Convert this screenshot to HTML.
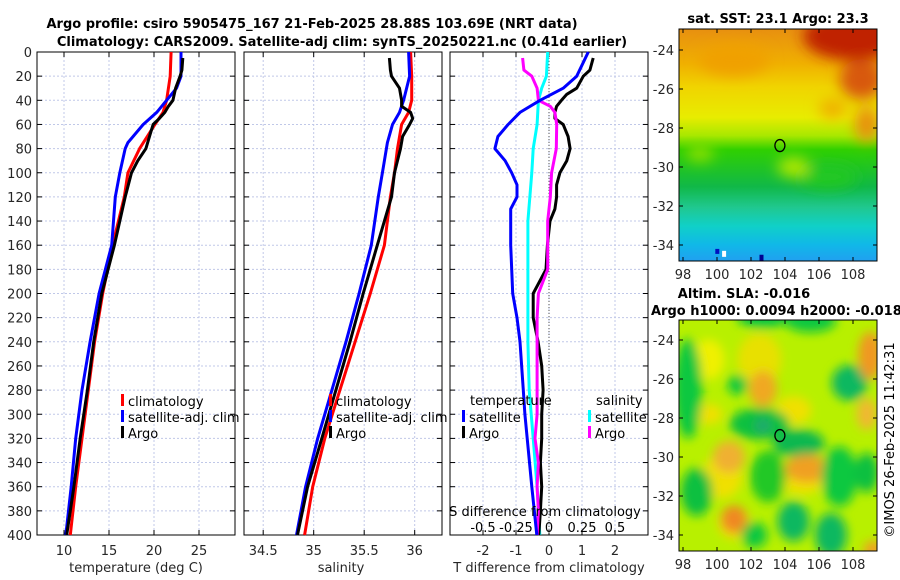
<!DOCTYPE html>
<html><head><meta charset="utf-8"><style>
body{margin:0;background:#fff;}
svg{display:block;font-family:"DejaVu Sans","Liberation Sans",sans-serif;}
</style></head><body>
<svg id="fig" width="900" height="580" viewBox="0 0 900 580" xmlns="http://www.w3.org/2000/svg">
<defs>
<filter id="blur4" x="-50%" y="-50%" width="200%" height="200%"><feGaussianBlur stdDeviation="7"/></filter>
<filter id="blur2" x="-50%" y="-50%" width="200%" height="200%"><feGaussianBlur stdDeviation="5"/></filter>
<clipPath id="m1clip"><rect x="679" y="29" width="198" height="232"/></clipPath>
<clipPath id="m2clip"><rect x="679" y="320" width="198" height="231"/></clipPath>
<linearGradient id="sstgrad" x1="0" y1="0" x2="0" y2="1">
<stop offset="0" stop-color="#e89010"/><stop offset="0.15" stop-color="#f0b000"/><stop offset="0.25" stop-color="#f0d400"/>
<stop offset="0.38" stop-color="#e8ec00"/><stop offset="0.46" stop-color="#a8e800"/><stop offset="0.52" stop-color="#30d000"/>
<stop offset="0.68" stop-color="#10b848"/><stop offset="0.77" stop-color="#20c890"/><stop offset="0.85" stop-color="#10d0c8"/>
<stop offset="0.93" stop-color="#10b8e8"/><stop offset="1" stop-color="#20a0f0"/>
</linearGradient>
</defs>
<text x="312" y="28" text-anchor="middle" font-size="13" font-weight="bold">Argo profile: csiro 5905475_167 21-Feb-2025 28.88S 103.69E (NRT data)</text>
<text x="342" y="46" text-anchor="middle" font-size="13" font-weight="bold">Climatology: CARS2009. Satellite-adj clim: synTS_20250221.nc (0.41d earlier)</text>
<g id="p1"></g>
<g id="p2"></g>
<g id="p3"></g>
<g id="m1"></g>
<g id="m2"></g>
<text transform="translate(894,440) rotate(-90)" text-anchor="middle" font-size="13">©IMOS 26-Feb-2025 11:42:31</text>
</svg>
<script>
// ---- data ----
const depthTicks=[0,20,40,60,80,100,120,140,160,180,200,220,240,260,280,300,320,340,360,380,400];
const tTicks=[10,15,20,25];
const sTicks=[34.5,35,35.5,36];
const dTTicks=[-2,-1,0,1,2];
const dSTicks=[-0.5,-0.25,0,0.25,0.5];
const dSLabels=["-0.5","-0.25","0","0.25","0.5"];

const climDepth=[0,20,40,50,60,80,100,120,160,200,240,280,320,360,400];
const climTemp=[21.9,21.8,21.4,21.0,20.1,18.4,17.1,16.7,15.4,14.3,13.4,12.7,12.0,11.3,10.7];
const climSal=[35.96,35.97,35.97,35.94,35.87,35.83,35.80,35.76,35.70,35.56,35.41,35.26,35.11,34.99,34.91];

const satDepth=[0,20,30,40,50,60,75,80,100,120,160,200,240,280,320,360,400];
const satTemp=[23.0,23.0,22.5,21.4,20.3,18.8,17.1,16.8,16.2,15.7,15.3,13.9,12.9,12.0,11.3,10.8,10.2];
const satSal=[35.94,35.95,35.92,35.89,35.85,35.78,35.73,35.72,35.68,35.64,35.57,35.45,35.32,35.18,35.04,34.92,34.83];

const argoDepth=[5,15,20,30,40,45,50,55,60,70,80,90,100,120,160,200,240,280,320,360,400];
const argoTemp=[23.2,23.1,22.9,22.4,22.1,21.6,21.2,20.6,19.9,19.5,19.1,18.2,17.5,16.8,15.6,14.2,13.3,12.6,11.8,11.1,10.3];
const argoSal=[35.75,35.76,35.77,35.85,35.87,35.87,35.96,35.98,35.95,35.88,35.86,35.83,35.80,35.77,35.63,35.49,35.36,35.22,35.08,34.94,34.84];

const dSatDepth=[0,20,30,40,50,60,70,80,90,100,110,120,130,160,200,220,240,280,300,320,360,400];
const dSatT=[1.19,0.84,0.43,-0.27,-0.88,-1.24,-1.55,-1.64,-1.33,-1.13,-0.97,-0.97,-1.16,-1.16,-1.10,-0.97,-0.88,-0.78,-0.73,-0.66,-0.52,-0.37];
const dArgoDepth=[5,15,20,30,35,40,45,50,55,60,70,80,90,100,110,120,130,140,160,180,200,220,240,260,280,300,320,340,360,380,400];
const dArgoT=[1.34,1.24,1.04,0.84,0.54,0.38,0.23,0.18,0.18,0.43,0.58,0.64,0.54,0.33,0.23,0.23,0.18,0.03,-0.05,-0.09,-0.48,-0.48,-0.33,-0.22,-0.18,-0.22,-0.22,-0.26,-0.22,-0.26,-0.31];
const dSatSDepth=[0,20,30,40,60,80,100,140,200,220,240,280,320,360,400];
const dSatS=[-0.01,-0.02,-0.055,-0.08,-0.09,-0.12,-0.13,-0.16,-0.16,-0.16,-0.16,-0.15,-0.12,-0.09,-0.07];
const dArgoSDepth=[5,15,20,30,40,45,50,60,80,100,120,140,160,180,200,220,240,280,300,320,340,360,380,400];
const dArgoS=[-0.2,-0.19,-0.13,-0.09,-0.08,0.01,0.045,0.058,0.055,0.02,0.01,-0.01,-0.01,-0.01,-0.08,-0.09,-0.09,-0.09,-0.09,-0.106,-0.08,-0.09,-0.08,-0.09];

const NS='http://www.w3.org/2000/svg';
function mk(parent,tag,attrs,txt){const e=document.createElementNS(NS,tag);for(const k in attrs)e.setAttribute(k,attrs[k]);if(txt!==undefined)e.textContent=txt;parent.appendChild(e);return e;}

const Y0=52,Y1=535;
const yD=d=>Y0+(d/400)*(Y1-Y0);
function panel(g,x0,x1,xs,ticks,labels,showY){
  mk(g,'rect',{x:x0,y:Y0,width:x1-x0,height:Y1-Y0,fill:'#fff'});
  depthTicks.forEach(d=>{
    if(d>0&&d<400){const l=mk(g,'line',{x1:x0,x2:x1,y1:yD(d),y2:yD(d),stroke:'#c0c8e8','stroke-width':1,'stroke-dasharray':'2,2'});}
    mk(g,'line',{x1:x0,x2:x0+5,y1:yD(d),y2:yD(d),stroke:'#000'});
    mk(g,'line',{x1:x1-5,x2:x1,y1:yD(d),y2:yD(d),stroke:'#000'});
    if(showY){const t=mk(g,'text',{x:x0-5,y:yD(d)+5,'text-anchor':'end','font-size':13,fill:'#262626'},String(d));}
  });
  ticks.forEach((v,i)=>{
    const x=xs(v);
    const l=mk(g,'line',{x1:x,x2:x,y1:Y0,y2:Y1,stroke:'#c0c8e8','stroke-width':1,'stroke-dasharray':'2,2'});
    
    mk(g,'line',{x1:x,x2:x,y1:Y1,y2:Y1-5,stroke:'#000'});
    mk(g,'line',{x1:x,x2:x,y1:Y0,y2:Y0+5,stroke:'#000'});
    const t=mk(g,'text',{x:x,y:555,'text-anchor':'middle','font-size':13,fill:'#262626'},labels[i]);
    
  });
  mk(g,'rect',{x:x0,y:Y0,width:x1-x0,height:Y1-Y0,fill:'none',stroke:'#000','stroke-width':1});
}
function line(g,xs,vals,depths,color,name,w){
  const pts=vals.map((v,i)=>xs(v).toFixed(1)+','+yD(depths[i]).toFixed(1)).join(' ');
  const p=mk(g,'polyline',{points:pts,fill:'none',stroke:color,'stroke-width':w||3,'stroke-linejoin':'round'});
  
  
}
function legendEntry(g,x,y,color,label){
  mk(g,'rect',{x:x,y:y-8,width:3,height:12,fill:color});
  const t=mk(g,'text',{x:x+7,y:y+4,'font-size':13,fill:'#000'},label);
  
  
}

// Panel 1
const p1=document.getElementById('p1');
const xT=v=>37+(v-7)*9;
panel(p1,37,235,xT,tTicks,tTicks.map(String),true);
line(p1,xT,climTemp,climDepth,'#ff0000','climatology-temp-line');
line(p1,xT,satTemp,satDepth,'#0000ff','satellite-temp-line');
line(p1,xT,argoTemp,argoDepth,'#000000','argo-temp-line');
legendEntry(p1,121,402,'#ff0000','climatology');
legendEntry(p1,121,418,'#0000ff','satellite-adj. clim');
legendEntry(p1,121,434,'#000000','Argo');
{const t=mk(p1,'text',{x:136,y:572,'text-anchor':'middle','font-size':13,fill:'#262626'},'temperature (deg C)');}

// Panel 2
const p2=document.getElementById('p2');
const xS=v=>244+(v-34.31)*101;
panel(p2,244,442,xS,sTicks,sTicks.map(String),false);
line(p2,xS,climSal,climDepth,'#ff0000','climatology-salinity-line');
line(p2,xS,satSal,satDepth,'#0000ff','satellite-salinity-line');
line(p2,xS,argoSal,argoDepth,'#000000','argo-salinity-line');
legendEntry(p2,329,402,'#ff0000','climatology');
legendEntry(p2,329,418,'#0000ff','satellite-adj. clim');
legendEntry(p2,329,434,'#000000','Argo');
{const t=mk(p2,'text',{x:341,y:572,'text-anchor':'middle','font-size':13,fill:'#262626'},'salinity');}

// Panel 3
const p3=document.getElementById('p3');
const xDT=v=>549+v*33;
const xDS=v=>549+v*132;
panel(p3,450,648,xDT,dTTicks,dTTicks.map(String),false);
mk(p3,'line',{x1:549,x2:549,y1:Y0,y2:Y1,stroke:'#555','stroke-width':1,'stroke-dasharray':'1,2'});
line(p3,xDS,dSatS,dSatSDepth,'#00ffff','satellite-salinity-diff-line');
line(p3,xDT,dArgoT,dArgoDepth,'#000000','argo-temp-diff-line');
line(p3,xDS,dArgoS,dArgoSDepth,'#ff00ff','argo-salinity-diff-line');
line(p3,xDT,dSatT,dSatDepth,'#0000ff','satellite-temp-diff-line');
dSTicks.forEach((v,i)=>{const t=mk(p3,'text',{x:xDS(v),y:532,'text-anchor':'middle','font-size':13,fill:'#000'},dSLabels[i]);});
{const t=mk(p3,'text',{x:545,y:516,'text-anchor':'middle','font-size':13,fill:'#000'},'S difference from climatology');}
{const t=mk(p3,'text',{x:470,y:405,'font-size':13,fill:'#000'},'temperature');}
{const t=mk(p3,'text',{x:596,y:405,'font-size':13,fill:'#000'},'salinity');}
legendEntry(p3,462,418,'#0000ff','satellite');
legendEntry(p3,462,434,'#000000','Argo');
legendEntry(p3,588,418,'#00ffff','satellite');
legendEntry(p3,588,434,'#ff00ff','Argo');
{const t=mk(p3,'text',{x:549,y:572,'text-anchor':'middle','font-size':13,fill:'#262626'},'T difference from climatology');}

// Maps
const lonTicks=[98,100,102,104,106,108];
const latTicks=[-24,-26,-28,-30,-32,-34];
const argoLon=103.7, argoLat=-28.9;
const xL=lon=>683+(lon-98)*17;
function mapAxes(g,yTop,yBot,yLat){
  mk(g,'rect',{x:679,y:yTop,width:198,height:yBot-yTop,fill:'none',stroke:'#000'});
  lonTicks.forEach(v=>{mk(g,'line',{x1:xL(v),x2:xL(v),y1:yBot,y2:yBot-4,stroke:'#000'});mk(g,'line',{x1:xL(v),x2:xL(v),y1:yTop,y2:yTop+4,stroke:'#000'});
    const t=mk(g,'text',{x:xL(v),y:yBot+18,'text-anchor':'middle','font-size':13,fill:'#262626'},String(v));});
  latTicks.forEach(v=>{mk(g,'line',{x1:679,x2:683,y1:yLat(v),y2:yLat(v),stroke:'#000'});mk(g,'line',{x1:873,x2:877,y1:yLat(v),y2:yLat(v),stroke:'#000'});
    const t=mk(g,'text',{x:674,y:yLat(v)+5,'text-anchor':'end','font-size':13,fill:'#262626'},String(v));});
  const c=mk(g,'ellipse',{cx:xL(argoLon),cy:yLat(argoLat),rx:5,ry:6,fill:'none',stroke:'#000','stroke-width':1.3});
  
}
// Map 1 SST
const m1=document.getElementById('m1');
const y1L=lat=>50+(-24-lat)*19.5;
{const cg=mk(m1,'g',{'clip-path':'url(#m1clip)'});
 mk(cg,'rect',{x:679,y:29,width:198,height:232,fill:'url(#sstgrad)'});
 const bl=mk(cg,'g',{filter:'url(#blur4)'});
 mk(bl,'ellipse',{cx:xL(108),cy:y1L(-23.3),rx:50,ry:24,fill:'#c02000'});
 mk(bl,'ellipse',{cx:xL(108.5),cy:y1L(-25.5),rx:22,ry:20,fill:'#d85810'});
 mk(bl,'ellipse',{cx:xL(108.8),cy:y1L(-27.8),rx:12,ry:18,fill:'#e89010'});
 mk(bl,'ellipse',{cx:xL(106.8),cy:y1L(-27),rx:14,ry:10,fill:'#f0b000'});
 mk(bl,'ellipse',{cx:xL(101),cy:y1L(-24.5),rx:35,ry:16,fill:'#f0a000'});
 mk(bl,'ellipse',{cx:xL(106.5),cy:y1L(-30.5),rx:30,ry:12,fill:'#20c820'});
 mk(bl,'ellipse',{cx:xL(104.5),cy:y1L(-30),rx:16,ry:10,fill:'#b0e800'});
 mk(bl,'ellipse',{cx:xL(99),cy:y1L(-29.3),rx:14,ry:8,fill:'#90e000'});
 mk(cg,'rect',{x:xL(99.9),y:y1L(-34.2),width:4,height:5,fill:'#0010c0'});
 mk(cg,'rect',{x:xL(100.3),y:y1L(-34.3),width:4,height:6,fill:'#ffffff'});
 mk(cg,'rect',{x:xL(102.5),y:y1L(-34.5),width:4,height:8,fill:'#000090'});
}
mapAxes(m1,29,261,y1L);
{const t=mk(m1,'text',{x:778,y:23,'text-anchor':'middle','font-size':13,'font-weight':'bold'},'sat. SST: 23.1 Argo: 23.3');}

// Map 2 SLA
const m2=document.getElementById('m2');
const y2L=lat=>340+(-24-lat)*19.5;
{const cg=mk(m2,'g',{'clip-path':'url(#m2clip)'});
 mk(cg,'rect',{x:679,y:320,width:198,height:231,fill:'#b8f000'});
 const bl=mk(cg,'g',{filter:'url(#blur2)'});
 const blobs=[[99.5,-25,16,20,'#f0f000'],[102.5,-25,22,26,'#e8e000'],[104.5,-27.6,18,14,'#f0e000'],[99.5,-27.8,14,10,'#f0e000'],[100.3,-31,20,22,'#f0e000'],[105,-31,24,18,'#f0e000'],[101,-33.4,16,16,'#f0e000'],
  [98.3,-26.5,14,50,'#10c840'],[102.7,-26.5,14,18,'#f0a820'],[101.2,-26.3,10,10,'#10c840'],[102.7,-22.8,26,12,'#10c840'],[105.5,-23,26,12,'#10c840'],[107.8,-26.2,18,18,'#10b860'],[109,-24.8,12,24,'#f09820'],[108.8,-27.8,10,16,'#f0b830'],
  [102.5,-28.3,30,16,'#10c040'],[104.8,-29.3,26,14,'#10b850'],[102.7,-28.4,8,8,'#20a870'],[100.7,-30,16,16,'#f0b030'],[105.3,-30.6,22,14,'#f0a020'],[103,-31,18,26,'#20c828'],[98.8,-31.8,16,24,'#10c040'],[107.2,-31,18,30,'#10c840'],[108.8,-30.8,12,20,'#10c040'],[101,-33.2,13,14,'#f08820'],[104.5,-33.3,16,20,'#10b860'],[102.2,-34,13,13,'#10c840'],[106.7,-34,16,22,'#10b860'],[109.2,-34.8,10,10,'#f0a020']];
 blobs.forEach(b=>mk(bl,'ellipse',{cx:xL(b[0]),cy:y2L(b[1]),rx:b[2],ry:b[3],fill:b[4]}));
}
mapAxes(m2,320,551,y2L);
{const t=mk(m2,'text',{x:744,y:298,'text-anchor':'middle','font-size':13,'font-weight':'bold'},'Altim. SLA: -0.016');}
{const t=mk(m2,'text',{x:651,y:315,'font-size':13,'font-weight':'bold'},'Argo h1000: 0.0094 h2000: -0.018');}
</script>
</body></html>
